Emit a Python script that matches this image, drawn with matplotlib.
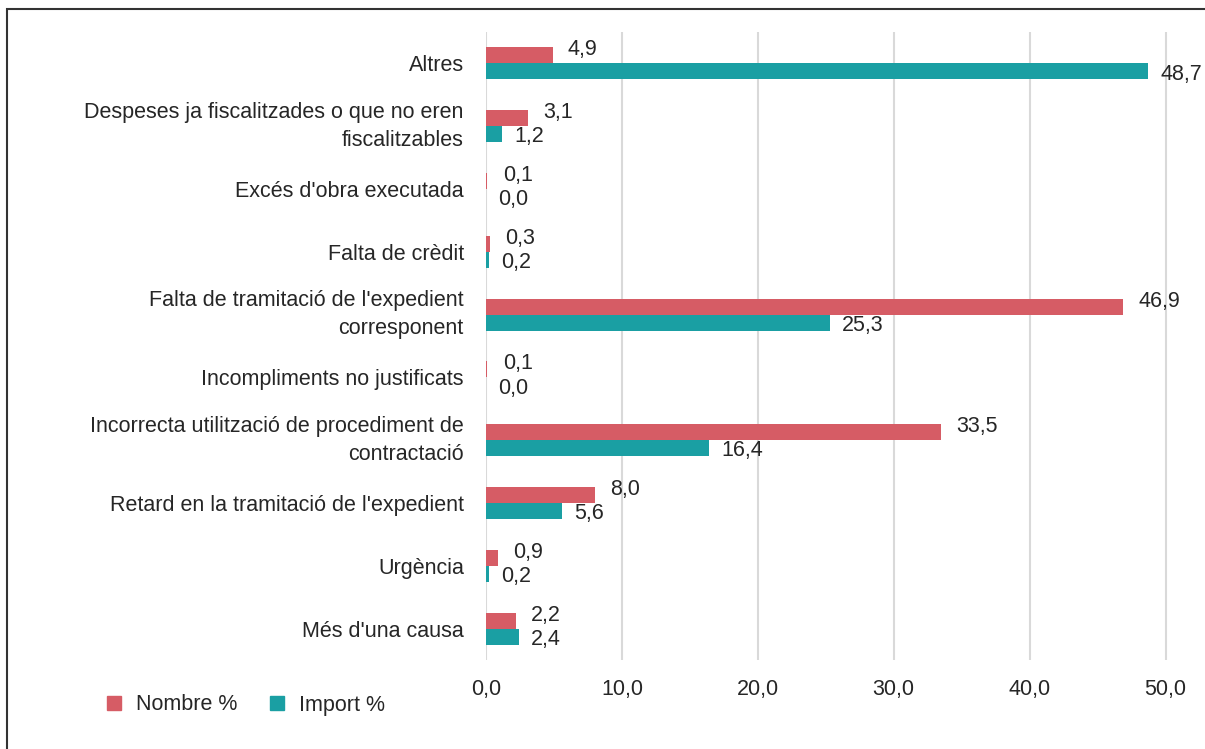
import numpy as np
import matplotlib
matplotlib.use("Agg")
import matplotlib.pyplot as plt
from matplotlib.patches import Rectangle, Patch

plt.rcParams['font.family'] = ['Liberation Sans', 'DejaVu Sans']

categories = [
    "Altres",
    "Despeses ja fiscalitzades o que no eren\nfiscalitzables",
    "Excés d'obra executada",
    "Falta de crèdit",
    "Falta de tramitació de l'expedient\ncorresponent",
    "Incompliments no justificats",
    "Incorrecta utilització de procediment de\ncontractació",
    "Retard en la tramitació de l'expedient",
    "Urgència",
    "Més d'una causa",
]
nombre = [4.9, 3.1, 0.1, 0.3, 46.9, 0.1, 33.5, 8.0, 0.9, 2.2]
importe = [48.7, 1.2, 0.0, 0.2, 25.3, 0.0, 16.4, 5.6, 0.2, 2.4]
series_names = ["Nombre %", "Import %"]
x_ticks = [0, 10, 20, 30, 40, 50]

red = "#d65c65"
teal = "#1a9fa3"
text_col = "#262626"
fs = 15.5


def fmt(v):
    return f"{v:.1f}".replace(".", ",")


fig = plt.figure(figsize=(12.05, 7.49), dpi=100)
ax = fig.add_axes([486 / 1205, 1 - 660 / 749, (1190 - 486) / 1205, (660 - 32) / 749])

y = np.arange(len(categories))
h = 0.255
ax.barh(y - h / 2, nombre, height=h, color=red, zorder=3)
ax.barh(y + h / 2, importe, height=h, color=teal, zorder=3)

for i in range(len(categories)):
    ax.annotate(fmt(nombre[i]), (nombre[i], y[i] - h / 2), xytext=(11, 4),
                textcoords="offset points", ha="left", va="center",
                fontsize=fs, color=text_col, annotation_clip=False)
    ax.annotate(fmt(importe[i]), (importe[i], y[i] + h / 2), xytext=(9, -2),
                textcoords="offset points", ha="left", va="center",
                fontsize=fs, color=text_col, annotation_clip=False)

ax.set_ylim(len(categories) - 0.5, -0.5)
ax.set_xlim(0, 51.8)
ax.set_yticks(y)
ax.set_yticklabels(categories, fontsize=fs, color=text_col, ha="right",
                   multialignment="right", linespacing=1.45)
for lab in ax.get_yticklabels():
    if "\n" in lab.get_text():
        lab.set_verticalalignment("center")
ax.set_xticks(x_ticks)
ax.set_xticklabels([fmt(v) for v in x_ticks], fontsize=fs, color=text_col)
ax.tick_params(axis="both", length=0)
ax.tick_params(axis="x", pad=14)
ax.tick_params(axis="y", pad=16)
for s in ax.spines.values():
    s.set_visible(False)
for xv in x_ticks:
    ax.axvline(xv, color="#d9d9d9", lw=1.5, zorder=1)

handles = [Patch(color=red), Patch(color=teal)]
fig.legend(handles, series_names, loc="center left", bbox_to_anchor=(88 / 1205, 1 - 705 / 749),
           ncol=2, frameon=False, fontsize=fs, handlelength=0.65, handleheight=0.65,
           handletextpad=0.7, columnspacing=1.5, labelcolor=text_col)

fig.patches.append(Rectangle((7 / 1205, -0.05), 1.2, 1.05 - 9 / 749, transform=fig.transFigure,
                             fill=False, edgecolor="#333333", lw=1.5))

fig.savefig("out.png", dpi=100)
